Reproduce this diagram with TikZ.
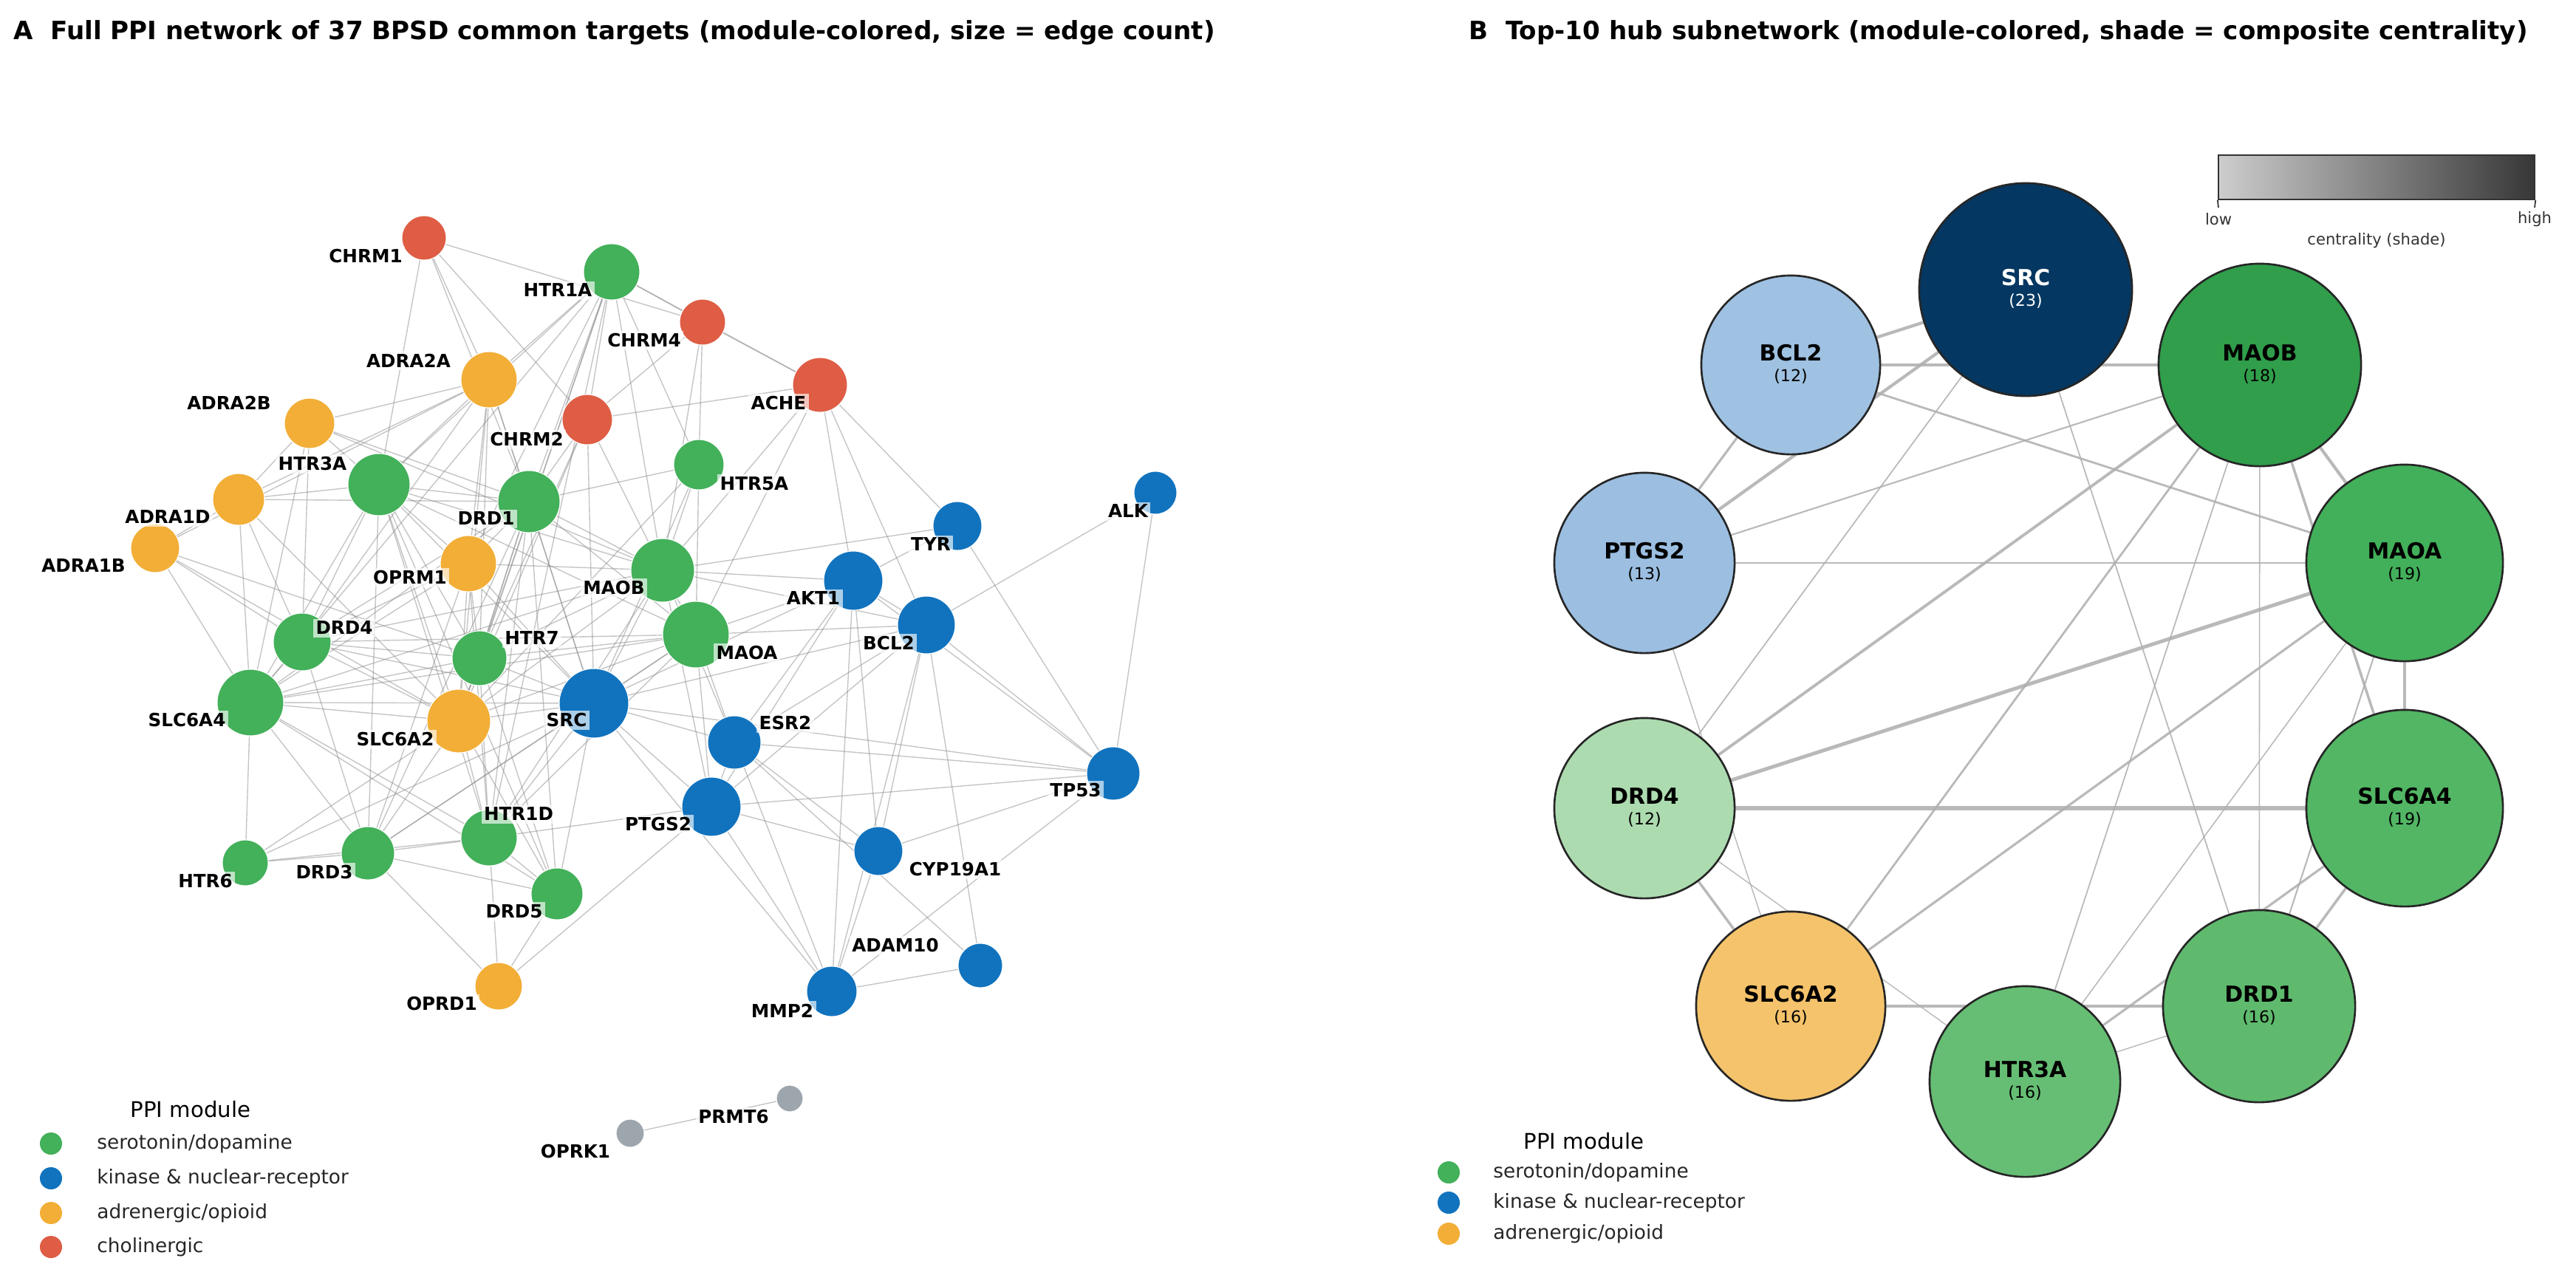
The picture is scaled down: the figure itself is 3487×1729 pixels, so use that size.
\documentclass[tikz,border=0pt]{standalone}
\usepackage{fontspec}
\setmainfont{DejaVu Sans}
\usetikzlibrary{backgrounds}
\definecolor{cG}{RGB}{67,176,90}
\definecolor{cB}{RGB}{17,115,190}
\definecolor{cO}{RGB}{242,174,55}
\definecolor{cR}{RGB}{222,93,68}
\definecolor{cY}{RGB}{157,165,173}
\definecolor{bSRC}{RGB}{4,55,97}
\definecolor{bBCL}{RGB}{159,193,226}
\definecolor{bPTG}{RGB}{155,190,225}
\definecolor{bMAOB}{RGB}{48,158,75}
\definecolor{bMAOA}{RGB}{66,176,90}
\definecolor{bSLC4}{RGB}{82,182,100}
\definecolor{bDRD1}{RGB}{95,186,110}
\definecolor{bHTR}{RGB}{101,190,116}
\definecolor{bDRD4}{RGB}{172,219,175}
\definecolor{bSLC2}{RGB}{245,195,107}
\definecolor{cbL}{RGB}{205,205,205}
\definecolor{cbR}{RGB}{55,55,55}
\tikzset{
  nA/.style={circle, draw=white, line width=0.3pt, inner sep=0pt},
  labA/.style={font=\fontsize{7}{8}\selectfont\bfseries, fill=white, fill opacity=0.65, text opacity=1, inner sep=1pt},
  eA/.style={draw=black!45, line width=0.4pt, draw opacity=0.5},
  nB/.style={circle, draw=black!85, line width=0.75pt, inner sep=0pt},
  nameB/.style={font=\fontsize{8.5}{9}\selectfont\bfseries},
  cntB/.style={font=\fontsize{6.3}{7}\selectfont},
  eB/.style={draw=black!32, draw opacity=0.85},
  ttl/.style={font=\fontsize{9.7}{11}\selectfont\bfseries, anchor=base west},
  legt/.style={font=\fontsize{8.3}{9}\selectfont},
  legx/.style={font=\fontsize{7.5}{8}\selectfont, anchor=west, text=black!85},
  legm/.style={circle, inner sep=0pt, minimum size=0.30cm},
  cbt/.style={font=\fontsize{6}{7}\selectfont, text=black!80}
}
\newcommand{\NA}[5]{\node[nA, fill=#5, minimum size=#4cm] (#1) at (#2,#3) {};}
\newcommand{\LA}[3]{\node[labA] (#1-l) at (#2,#3) {#1};}
\newcommand{\NB}[8]{%
  \node[nB, fill=#6, minimum size=#5cm] (#1) at (#3,#4) {};
  \node[nameB, text=#7] (#1-n) at ([yshift=0.16cm]#1.center) {#2};
  \node[cntB, text=#7] (#1-c) at ([yshift=-0.16cm]#1.center) {(#8)};}
\begin{document}
\begin{tikzpicture}[x=0.01cm, y=-0.01cm]
\path[use as bounding box] (0,0) rectangle (3487,1729);
% titles
\node[ttl] (tA) at (6,53) {A\ \ Full PPI network of 37 BPSD common targets (module-colored, size = edge count)};
\node[ttl] (tB) at (1976,53) {B\ \ Top-10 hub subnetwork (module-colored, shade = composite centrality)};
% ---------- panel A nodes
\NA{CHRM1}{574}{322}{0.60}{cR}
\NA{HTR1A}{828}{368}{0.76}{cG}
\NA{CHRM4}{951}{436}{0.62}{cR}
\NA{ACHE}{1110}{521}{0.74}{cR}
\NA{ADRA2A}{662}{514}{0.76}{cO}
\NA{ADRA2B}{419}{573}{0.68}{cO}
\NA{CHRM2}{795}{568}{0.68}{cR}
\NA{HTR3A}{513}{656}{0.84}{cG}
\NA{HTR5A}{946}{629}{0.68}{cG}
\NA{ADRA1D}{323}{676}{0.70}{cO}
\NA{DRD1}{716}{679}{0.84}{cG}
\NA{ADRA1B}{210}{742}{0.66}{cO}
\NA{TYR}{1296}{712}{0.66}{cB}
\NA{ALK}{1564}{667}{0.58}{cB}
\NA{OPRM1}{634}{763}{0.76}{cO}
\NA{MAOB}{897}{772}{0.86}{cG}
\NA{AKT1}{1155}{786}{0.80}{cB}
\NA{DRD4}{409}{869}{0.78}{cG}
\NA{HTR7}{649}{891}{0.74}{cG}
\NA{MAOA}{942}{859}{0.90}{cG}
\NA{BCL2}{1254}{846}{0.78}{cB}
\NA{SLC6A4}{339}{951}{0.90}{cG}
\NA{SRC}{804}{952}{0.94}{cB}
\NA{SLC6A2}{621}{976}{0.86}{cO}
\NA{ESR2}{994}{1005}{0.72}{cB}
\NA{TP53}{1507}{1047}{0.72}{cB}
\NA{PTGS2}{963}{1092}{0.80}{cB}
\NA{HTR1D}{662}{1134}{0.76}{cG}
\NA{CYP19A1}{1189}{1152}{0.66}{cB}
\NA{HTR6}{332}{1168}{0.62}{cG}
\NA{DRD3}{498}{1155}{0.72}{cG}
\NA{DRD5}{754}{1210}{0.70}{cG}
\NA{ADAM10}{1327}{1307}{0.60}{cB}
\NA{OPRD1}{675}{1335}{0.64}{cO}
\NA{MMP2}{1126}{1342}{0.68}{cB}
\NA{PRMT6}{1069}{1487}{0.36}{cY}
\NA{OPRK1}{853}{1534}{0.38}{cY}
% labels A
\LA{CHRM1}{495}{347}
\LA{HTR1A}{755}{393}
\LA{CHRM4}{872}{461}
\LA{ACHE}{1054}{546}
\LA{ADRA2A}{553}{488}
\LA{ADRA2B}{310}{545}
\LA{CHRM2}{713}{595}
\LA{HTR3A}{423}{628}
\LA{HTR5A}{1021}{655}
\LA{ADRA1D}{227}{700}
\LA{DRD1}{658}{702}
\LA{ADRA1B}{113}{766}
\LA{TYR}{1260}{737}
\LA{ALK}{1527}{692}
\LA{OPRM1}{555}{782}
\LA{MAOB}{831}{796}
\LA{AKT1}{1101}{810}
\LA{DRD4}{466}{850}
\LA{HTR7}{720}{864}
\LA{MAOA}{1011}{884}
\LA{BCL2}{1203}{871}
\LA{SLC6A4}{253}{975}
\LA{SRC}{767}{975}
\LA{SLC6A2}{535}{1001}
\LA{ESR2}{1063}{979}
\LA{TP53}{1456}{1070}
\LA{PTGS2}{891}{1116}
\LA{HTR1D}{702}{1102}
\LA{CYP19A1}{1293}{1177}
\LA{HTR6}{278}{1193}
\LA{DRD3}{439}{1181}
\LA{DRD5}{696}{1234}
\LA{ADAM10}{1212}{1280}
\LA{OPRD1}{598}{1359}
\LA{MMP2}{1059}{1368}
\LA{PRMT6}{993}{1512}
\LA{OPRK1}{779}{1559}
% ---------- panel B nodes
\NB{b-SRC}{SRC}{2742}{392}{2.88}{bSRC}{white}{23}
\NB{b-MAOB}{MAOB}{3059}{494}{2.74}{bMAOB}{black}{18}
\NB{b-MAOA}{MAOA}{3255}{762}{2.66}{bMAOA}{black}{19}
\NB{b-SLC6A4}{SLC6A4}{3255}{1094}{2.66}{bSLC4}{black}{19}
\NB{b-DRD1}{DRD1}{3058}{1362}{2.60}{bDRD1}{black}{16}
\NB{b-HTR3A}{HTR3A}{2741}{1464}{2.58}{bHTR}{black}{16}
\NB{b-SLC6A2}{SLC6A2}{2424}{1362}{2.56}{bSLC2}{black}{16}
\NB{b-DRD4}{DRD4}{2226}{1094}{2.44}{bDRD4}{black}{12}
\NB{b-PTGS2}{PTGS2}{2226}{762}{2.44}{bPTG}{black}{13}
\NB{b-BCL2}{BCL2}{2424}{494}{2.42}{bBCL}{black}{12}
% ---------- edges
\begin{scope}[on background layer]
\foreach \a/\b in {CHRM1/CHRM4,CHRM1/HTR3A,CHRM1/CHRM2,CHRM1/DRD1,CHRM1/ADRA2A,
 HTR1A/CHRM4,HTR1A/ACHE,HTR1A/ADRA2A,HTR1A/HTR3A,HTR1A/DRD1,HTR1A/OPRM1,HTR1A/SLC6A2,HTR1A/HTR7,HTR1A/HTR5A,HTR1A/MAOB,HTR1A/SLC6A4,HTR1A/HTR1D,HTR1A/CHRM2,
 CHRM4/ACHE,CHRM4/CHRM2,CHRM4/HTR5A,CHRM4/MAOB,
 ACHE/CHRM2,ACHE/AKT1,ACHE/BCL2,ACHE/TYR,ACHE/MAOA,ACHE/MAOB,
 ADRA2A/ADRA2B,ADRA2A/ADRA1D,ADRA2A/HTR3A,ADRA2A/DRD1,ADRA2A/OPRM1,ADRA2A/HTR7,ADRA2A/DRD4,ADRA2A/SLC6A2,ADRA2A/ADRA1B,ADRA2A/SRC,
 ADRA2B/ADRA1D,ADRA2B/HTR3A,ADRA2B/DRD4,ADRA2B/DRD1,ADRA2B/SLC6A4,ADRA2B/MAOB,
 CHRM2/DRD1,CHRM2/MAOB,CHRM2/HTR7,CHRM2/SLC6A2,CHRM2/SRC,
 HTR3A/ADRA1D,HTR3A/DRD1,HTR3A/DRD4,HTR3A/SLC6A4,HTR3A/OPRM1,HTR3A/HTR7,HTR3A/SLC6A2,HTR3A/DRD3,HTR3A/MAOB,HTR3A/MAOA,HTR3A/SRC,HTR3A/HTR1D,HTR3A/DRD5,
 HTR5A/MAOB,HTR5A/MAOA,HTR5A/DRD1,HTR5A/SRC,HTR5A/SLC6A2,
 ADRA1D/ADRA1B,ADRA1D/SLC6A4,ADRA1D/DRD1,ADRA1D/SLC6A2,ADRA1D/DRD4,
 DRD1/OPRM1,DRD1/MAOB,DRD1/HTR7,DRD1/SLC6A2,DRD1/SLC6A4,DRD1/DRD4,DRD1/SRC,DRD1/MAOA,DRD1/HTR1D,DRD1/DRD5,DRD1/DRD3,
 ADRA1B/SLC6A4,ADRA1B/DRD4,ADRA1B/SLC6A2,ADRA1B/HTR7,
 TYR/AKT1,TYR/MAOB,TYR/TP53,ALK/BCL2,ALK/TP53,
 OPRM1/HTR7,OPRM1/SLC6A2,OPRM1/SLC6A4,OPRM1/DRD4,OPRM1/SRC,OPRM1/MAOB,OPRM1/HTR1D,OPRM1/DRD3,
 MAOB/AKT1,MAOB/MAOA,MAOB/SRC,MAOB/HTR7,MAOB/SLC6A4,MAOB/SLC6A2,MAOB/DRD4,MAOB/BCL2,MAOB/PTGS2,MAOB/HTR1D,MAOB/ESR2,
 AKT1/BCL2,AKT1/MAOA,AKT1/SRC,AKT1/ESR2,AKT1/PTGS2,AKT1/TP53,AKT1/MMP2,AKT1/CYP19A1,
 DRD4/SLC6A4,DRD4/HTR7,DRD4/MAOA,DRD4/SRC,DRD4/SLC6A2,DRD4/DRD3,
 HTR7/SLC6A4,HTR7/SRC,HTR7/SLC6A2,HTR7/MAOA,HTR7/HTR1D,HTR7/DRD5,
 MAOA/BCL2,MAOA/SLC6A4,MAOA/SRC,MAOA/SLC6A2,MAOA/PTGS2,MAOA/ESR2,MAOA/HTR1D,MAOA/DRD3,
 BCL2/SRC,BCL2/TP53,BCL2/ESR2,BCL2/PTGS2,BCL2/CYP19A1,BCL2/ADAM10,BCL2/MMP2,
 SLC6A4/SLC6A2,SLC6A4/SRC,SLC6A4/HTR6,SLC6A4/DRD3,SLC6A4/HTR1D,SLC6A4/DRD5,
 SRC/SLC6A2,SRC/ESR2,SRC/PTGS2,SRC/TP53,SRC/HTR1D,SRC/DRD3,SRC/DRD5,SRC/MMP2,SRC/HTR6,
 SLC6A2/HTR1D,SLC6A2/DRD3,SLC6A2/HTR6,SLC6A2/DRD5,
 ESR2/TP53,ESR2/PTGS2,ESR2/CYP19A1,ESR2/MMP2,ESR2/ADAM10,
 TP53/PTGS2,TP53/CYP19A1,TP53/MMP2,
 PTGS2/CYP19A1,PTGS2/MMP2,PTGS2/HTR1D,PTGS2/OPRD1,
 HTR1D/DRD3,HTR1D/DRD5,HTR1D/OPRD1,HTR1D/HTR6,
 CYP19A1/MMP2,DRD3/DRD5,DRD3/OPRD1,DRD3/HTR6,DRD5/OPRD1,ADAM10/MMP2,PRMT6/OPRK1}
 \draw[eA] (\a) -- (\b);
% panel B edges
\foreach \a/\b/\w in {b-DRD4/b-SLC6A4/1.5, b-MAOA/b-DRD4/1.4, b-BCL2/b-SRC/1.2, b-PTGS2/b-SRC/1.2,
 b-MAOB/b-MAOA/1.2, b-MAOA/b-SLC6A4/1.2, b-MAOB/b-DRD4/1.1, b-MAOB/b-SLC6A4/1.0,
 b-SLC6A4/b-DRD1/1.0, b-DRD4/b-SLC6A2/1.0, b-PTGS2/b-BCL2/0.9, b-BCL2/b-MAOB/0.9,
 b-MAOA/b-SLC6A2/0.9, b-SLC6A4/b-HTR3A/0.9, b-SLC6A2/b-DRD1/0.9, b-PTGS2/b-MAOA/0.8,
 b-BCL2/b-MAOA/0.8, b-MAOB/b-SLC6A2/0.8, b-PTGS2/b-MAOB/0.6, b-MAOA/b-DRD1/0.6,
 b-SRC/b-DRD4/0.5, b-SRC/b-DRD1/0.5, b-MAOB/b-HTR3A/0.5, b-MAOB/b-DRD1/0.45,
 b-MAOA/b-HTR3A/0.45, b-PTGS2/b-SLC6A2/0.4, b-DRD4/b-HTR3A/0.4, b-HTR3A/b-DRD1/0.4}
 \draw[eB, line width=\w pt] (\a) -- (\b);
\end{scope}
% ---------- legend A
\node[legt] (legA) at (258,1502) {PPI module};
\node[legm, fill=cG] (legA1) at (69,1548) {};
\node[legx] (legA1t) at (119,1548) {serotonin/dopamine};
\node[legm, fill=cB] (legA2) at (69,1595) {};
\node[legx] (legA2t) at (119,1595) {kinase \& nuclear-receptor};
\node[legm, fill=cO] (legA3) at (69,1642) {};
\node[legx] (legA3t) at (119,1642) {adrenergic/opioid};
\node[legm, fill=cR] (legA4) at (69,1688) {};
\node[legx] (legA4t) at (119,1688) {cholinergic};
% ---------- legend B
\node[legt] (legB) at (2144,1545) {PPI module};
\node[legm, fill=cG] (legB1) at (1961,1587) {};
\node[legx] (legB1t) at (2009,1587) {serotonin/dopamine};
\node[legm, fill=cB] (legB2) at (1961,1628) {};
\node[legx] (legB2t) at (2009,1628) {kinase \& nuclear-receptor};
\node[legm, fill=cO] (legB3) at (1961,1670) {};
\node[legx] (legB3t) at (2009,1670) {adrenergic/opioid};
% ---------- colorbar
\node[draw=black!80, line width=0.6pt, minimum width=4.28cm, minimum height=0.6cm, inner sep=0pt, left color=cbL, right color=cbR] (cbar) at (3217,240) {};
\coordinate (tk1) at (3003,281);
\coordinate (tk2) at (3431,281);
\draw[black!80, line width=0.5pt] (cbar.south west) -- (tk1);
\draw[black!80, line width=0.5pt] (cbar.south east) -- (tk2);
\node[cbt] (cblow) at (3003,297) {low};
\node[cbt] (cbhigh) at (3431,297) {high};
\node[cbt] (cblab) at (3217,326) {centrality (shade)};
\end{tikzpicture}
\end{document}
